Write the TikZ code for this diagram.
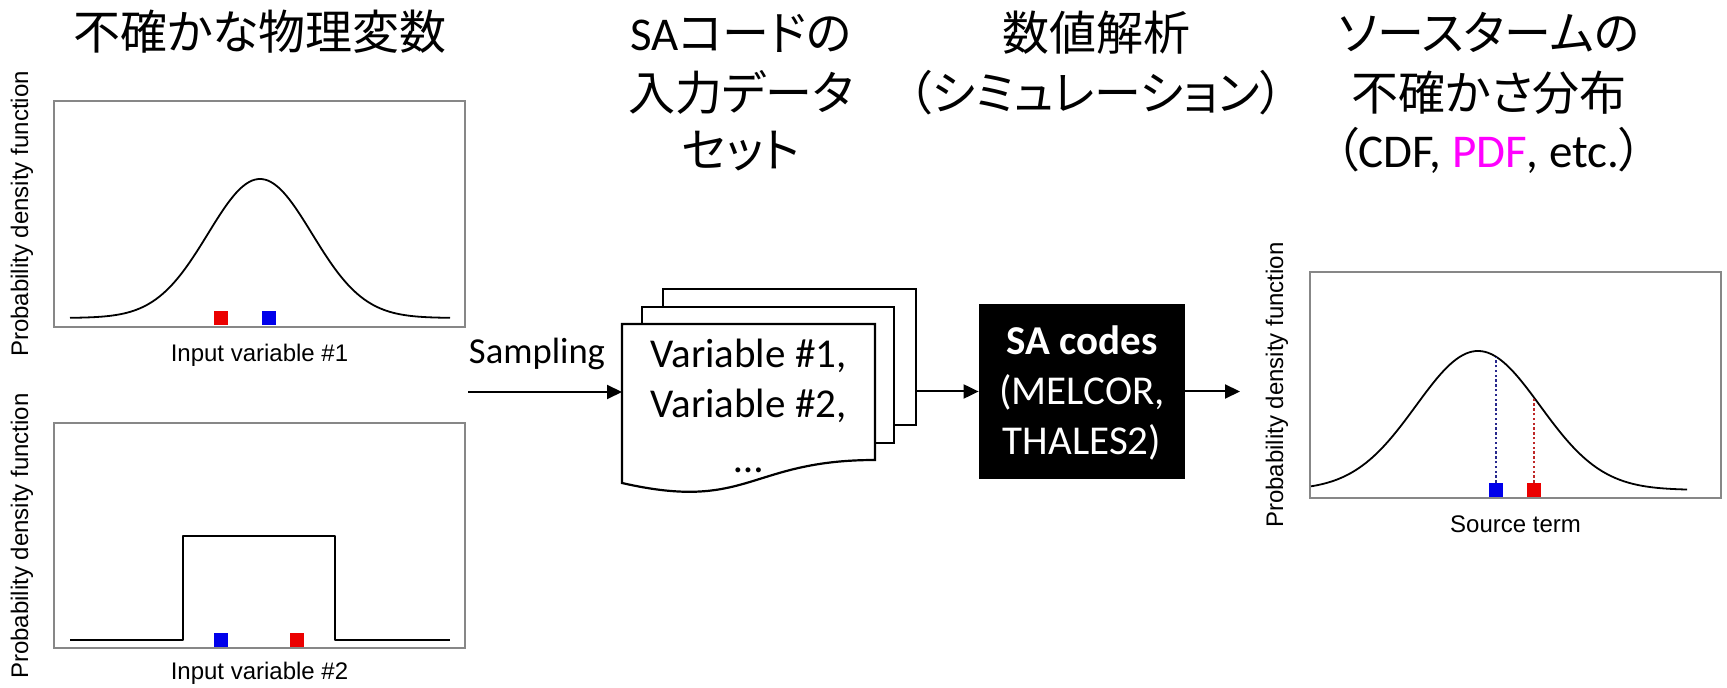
\documentclass[tikz,border=0pt]{standalone}
\usepackage{fontspec}
\setmainfont{Carlito}
\newfontfamily\cjk[RawFeature=+palt]{Noto Sans CJK JP}
\newfontfamily\arialf{Liberation Sans}
\usetikzlibrary{arrows.meta}
\definecolor{pdfpink}{RGB}{255,0,255}
\definecolor{frameg}{RGB}{135,135,135}
\definecolor{dotblue}{RGB}{40,40,140}
\definecolor{dotred}{RGB}{190,40,40}
\definecolor{mkred}{RGB}{235,0,0}
\definecolor{mkblue}{RGB}{0,0,235}
\begin{document}
\begin{tikzpicture}[x=0.5pt,y=-0.5pt,
  head/.style={anchor=base,inner sep=0,font=\fontsize{23.5}{28}\selectfont},
  frame/.style={draw=frameg,line width=0.7pt},
  curve/.style={line width=0.9pt,line join=round},
  mk/.style={minimum size=7pt,inner sep=0,draw=none},
  axlab/.style={font=\arialf\fontsize{12}{14}\selectfont,inner sep=0},
  page/.style={draw,fill=white,line width=1.1pt},
  vartext/.style={anchor=base,inner sep=0,font=\fontsize{20.5}{24}\selectfont},
  satext/.style={anchor=base,inner sep=0,text=white,font=\fontsize{20.5}{24}\selectfont},
  flow/.style={line width=1pt,-{Triangle[length=7.5pt,width=7pt]}},
  guide/.style={line width=0.8pt,dash pattern=on 1.2pt off 1.2pt}]
\useasboundingbox (0,0) rectangle (1727,688);

% ---- column headings ----
\node[head] (h1) at (260,50) {\cjk 不確かな物理変数};
\node[head] (h2a) at (741,51) {SA{\cjk コードの}};
\node[head] (h2b) at (741,111) {\cjk 入力データ};
\node[head] (h2c) at (741,168) {\cjk セット};
\node[head] (h3a) at (1096,51) {\cjk 数値解析};
\node[head] (h3b) at (1096,111) {\cjk （シミュレーション）};
\node[head] (h4a) at (1489,51) {\cjk ソースタームの};
\node[head] (h4b) at (1489,111) {\cjk 不確かさ分布};
\node[head] (h4c) at (1489,168) {{\cjk （}CDF, \textcolor{pdfpink}{PDF}, etc.{\cjk ）}};

% ---- input variable #1: normal pdf ----
\node[frame,minimum width=205.5pt,minimum height=113pt,inner sep=0] (p1) at (259.5,214) {};
\draw[curve] plot[domain=70:450,samples=120,smooth] (\x,{318-139*exp(-((\x-260)/52)^2/2)});
\node[mk,fill=mkred] (r1) at (221,318) {};
\node[mk,fill=mkblue] (b1) at (269,318) {};
\node[axlab,rotate=90] (y1) at (22,214) {Probability density function};
\node[axlab] (x1) at (259.5,355) {Input variable \#1};

% ---- input variable #2: uniform pdf ----
\node[frame,minimum width=205.5pt,minimum height=112.5pt,inner sep=0] (p2) at (259.5,535.5) {};
\draw[curve] (70,640) -- (183,640) -- (183,536) -- (335,536) -- (335,640) -- (450,640);
\node[mk,fill=mkblue] (b2) at (221,640) {};
\node[mk,fill=mkred] (r2) at (297,640) {};
\node[axlab,rotate=90] (y2) at (22,536) {Probability density function};
\node[axlab] (x2) at (259.5,673) {Input variable \#2};

% ---- sampled input data sets (stack of pages) ----
\node[page,minimum width=126.5pt,minimum height=68pt,inner sep=0] (back) at (789.5,357) {};
\node[page,minimum width=126pt,minimum height=68pt,inner sep=0] (mid) at (768,375) {};
\draw[page] (622,324) -- (875,324) -- (875,460)
  .. controls (748.5,460) and (748.5,512) .. (622,483) -- cycle;
\node[vartext] (v1) at (748.5,368) {Variable \#1,};
\node[vartext] (v2) at (748.5,418) {Variable \#2,};
\node[vartext] (v3) at (748.5,473) {…};

% ---- sampling arrow ----
\node[anchor=base,inner sep=0,font=\fontsize{18.3}{22}\selectfont] (samp) at (537,364) {Sampling};
\coordinate (sin) at (468,392);
\coordinate (fw) at (622,392);
\draw[flow] (sin) -- (fw);

% ---- SA codes ----
\node[fill=black,minimum width=103pt,minimum height=87.5pt,inner sep=0] (sa) at (1082,391.5) {};
\node[satext,font=\bfseries\fontsize{20.5}{24}\selectfont] (sa1) at (1082,355) {SA codes};
\node[satext] (sa2) at (1082,405) {(MELCOR,};
\node[satext] (sa3) at (1082,455) {THALES2)};
\draw[flow] (back.east |- sa.west) -- (sa.west);
\coordinate (pin) at (1240,391.5);
\draw[flow] (sa.east) -- (pin);

% ---- source term pdf ----
\node[frame,minimum width=205.5pt,minimum height=113pt,inner sep=0] (p3) at (1515.5,385) {};
\draw[curve] plot[domain=1311:1687,samples=120,smooth] (\x,{490-139*exp(-((\x-1478)/62)^2/2)});
\coordinate (cb) at (1496,{490-139*exp(-((1496-1478)/62)^2/2)});
\coordinate (cr) at (1534,{490-139*exp(-((1534-1478)/62)^2/2)});
\node[mk,fill=mkblue] (b3) at (1496,490) {};
\node[mk,fill=mkred] (r3) at (1534,490) {};
\draw[guide,dotblue] (b3.north) -- (cb);
\draw[guide,dotred] (r3.north) -- (cr);
\node[axlab,rotate=90] (y3) at (1277,385) {Probability density function};
\node[axlab] (x3) at (1515.5,524) {Source term};
\end{tikzpicture}
\end{document}
